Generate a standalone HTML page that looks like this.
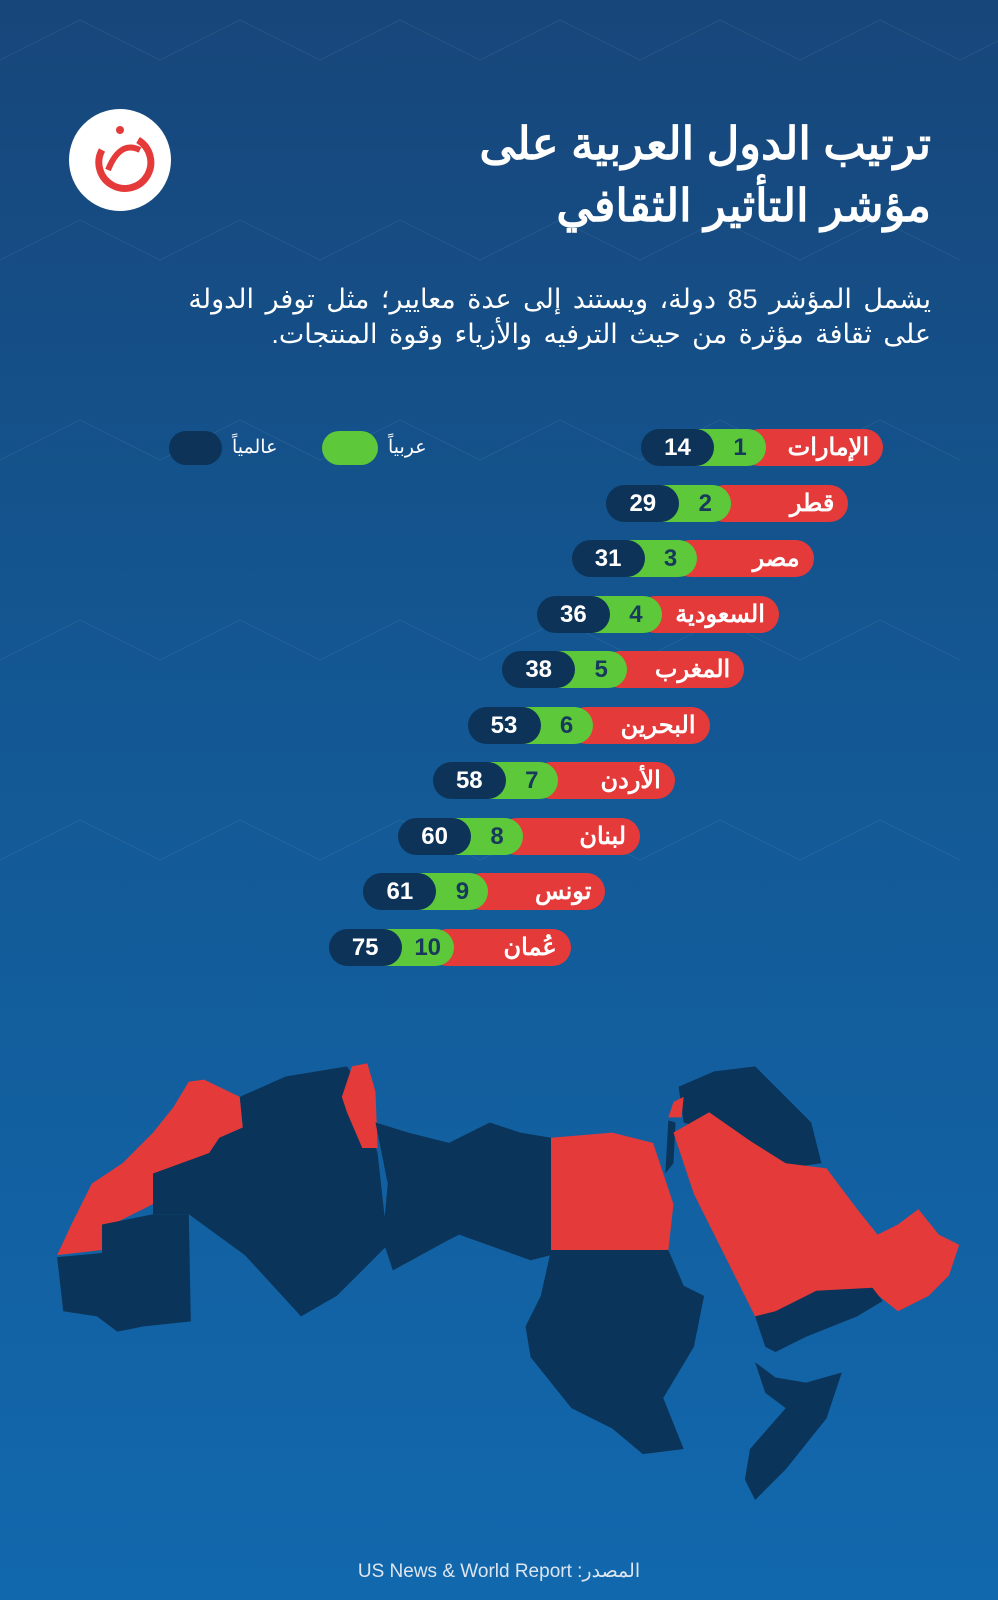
<!DOCTYPE html>
<html><head><meta charset="utf-8"><style>
body{margin:0;width:998px;height:1600px;overflow:hidden;font-family:"Liberation Sans","Noto Sans CJK SC",sans-serif}
#bg{position:absolute;left:0;top:0;width:998px;height:1600px;background:linear-gradient(180deg,#17467a 0%,#135894 45%,#1268ad 100%)}
.t{position:absolute;color:#fff;direction:rtl;text-align:right;white-space:nowrap}
.row{position:absolute;height:37px}
.row div{position:absolute;top:0;height:37px;border-radius:19px;color:#fff;font-weight:bold;font-size:24px;line-height:37px}
.r{background:#e43a3a;text-align:right;padding-right:14px;box-sizing:border-box;direction:rtl}
.g{background:#5cc83a;color:#173a5c!important;text-align:center}
.d{background:#0d3358;text-align:center}
</style></head><body>
<div id="bg"></div>
<svg style="position:absolute;left:0;top:0" width="998" height="1600">
<g stroke="#ffffff" stroke-opacity="0.05" fill="none" stroke-width="1.5">
<path d="M0 60 L80 20 L160 60 L240 20 L320 60 L400 20 L480 60 L560 20 L640 60 L720 20 L800 60 L880 20 L960 60 L1040 20"/>
<path d="M0 260 L80 220 L160 260 L240 220 L320 260 L400 220 L480 260 L560 220 L640 260 L720 220 L800 260 L880 220 L960 260"/>
<path d="M0 460 L80 420 L160 460 L240 420 L320 460 L400 420 L480 460 L560 420 L640 460 L720 420 L800 460 L880 420 L960 460"/>
<path d="M0 660 L80 620 L160 660 L240 620 L320 660 L400 620 L480 660 L560 620 L640 660 L720 620 L800 660 L880 620 L960 660"/>
<path d="M0 860 L80 820 L160 860 L240 820 L320 860 L400 820 L480 860 L560 820 L640 860 L720 820 L800 860 L880 820 L960 860"/>
</g>
<circle cx="120" cy="160" r="51" fill="#fff"/>
<path d="M138 140 A26 26 0 1 1 102 150" stroke="#e43a3a" stroke-width="7" fill="none"/>
<path d="M108 170 Q120 140 140 150" stroke="#e43a3a" stroke-width="6" fill="none"/>
<circle cx="120" cy="130" r="4" fill="#e43a3a"/>
<g transform="scale(1.0204)">
<path fill="#e43a3a" d="M185 1060 L200 1058 L235 1075 L238 1105 L215 1115 L205 1130 L160 1150 L150 1180 L110 1200 L100 1225 L56 1230 L70 1200 L90 1160 L120 1140 L150 1110 L170 1085Z"/>
<path fill="#0a3459" d="M56 1232 L100 1228 L100 1200 L150 1190 L185 1190 L187 1295 L140 1300 L115 1305 L95 1290 L62 1285Z"/>
<path fill="#0a3459" d="M235 1075 L280 1055 L340 1045 L350 1060 L370 1130 L380 1220 L330 1270 L295 1290 L240 1230 L185 1190 L150 1190 L150 1150 L205 1130 L215 1115 L238 1105Z"/>
<path fill="#e43a3a" d="M345 1045 L360 1042 L368 1070 L370 1125 L355 1125 L340 1090 L335 1075Z"/>
<path fill="#0a3459" d="M368 1100 L400 1110 L440 1120 L480 1100 L510 1110 L540 1115 L540 1230 L520 1235 L450 1210 L440 1215 L385 1245 L375 1215 L380 1160Z"/>
<path fill="#e43a3a" d="M540 1115 L600 1110 L640 1120 L660 1180 L655 1225 L540 1225Z"/>
<path fill="#0a3459" d="M540 1225 L655 1225 L670 1260 L690 1270 L680 1320 L650 1370 L670 1420 L630 1425 L600 1400 L560 1380 L520 1330 L515 1300 L530 1270Z"/>
<path fill="#0a3459" d="M665 1065 L700 1050 L740 1045 L795 1100 L805 1140 L770 1145 L730 1120 L700 1110 L670 1100Z"/>
<path fill="#e43a3a" d="M660 1080 L670 1075 L668 1095 L655 1095Z"/>
<path fill="#0a3459" d="M655 1098 L662 1100 L660 1140 L652 1150Z"/>
<path fill="#e43a3a" d="M660 1110 L695 1090 L735 1118 L770 1140 L810 1145 L840 1185 L860 1210 L880 1200 L900 1185 L920 1210 L940 1220 L930 1250 L910 1270 L880 1285 L855 1265 L800 1270 L760 1285 L740 1290 L710 1230 L680 1170Z"/>
<path fill="#0a3459" d="M740 1290 L760 1285 L800 1265 L855 1262 L865 1275 L840 1290 L790 1310 L760 1325 L750 1320Z"/>
<path fill="#0a3459" d="M740 1335 L760 1350 L790 1355 L825 1345 L810 1390 L770 1440 L740 1470 L730 1450 L735 1420 L770 1380 L750 1365Z"/>
</g>
</svg>
<div class="t" style="right:67px;top:113px;font-size:45px;font-weight:bold;line-height:62px">ترتيب الدول العربية على<br>مؤشر التأثير الثقافي</div>
<div class="t" style="right:67px;top:282px;font-size:27px;line-height:35px;word-spacing:4px">يشمل المؤشر 85 دولة، ويستند إلى عدة معايير؛ مثل توفر الدولة<br>على ثقافة مؤثرة من حيث الترفيه والأزياء وقوة المنتجات.</div>
<div style="position:absolute;left:169px;top:431px;width:53px;height:34px;border-radius:17px;background:#0d3358"></div>
<div class="t" style="left:232px;top:436px;font-size:19px">عالمياً</div>
<div style="position:absolute;left:322px;top:431px;width:56px;height:34px;border-radius:17px;background:#5cc83a"></div>
<div class="t" style="left:388px;top:436px;font-size:19px">عربياً</div>
<div id="rows"></div>
<div class="t" style="left:0;width:998px;text-align:center;top:1560px;font-size:19px;color:#dde6f0">المصدر: US News &amp; World Report</div>
<script>
var d=[["الإمارات",1,14],["قطر",2,29],["مصر",3,31],["السعودية",4,36],["المغرب",5,38],["البحرين",6,53],["الأردن",7,58],["لبنان",8,60],["تونس",9,61],["عُمان",10,75]];
var h="";
d.forEach(function(r,i){var L=641-i*34.7,T=429+i*55.5;
h+='<div class="row" style="left:'+L+'px;top:'+T+'px;width:242px"><div class="r" style="left:100px;width:142px">'+r[0]+'</div><div class="g" style="left:40px;width:85px;padding-left:33px;box-sizing:border-box">'+r[1]+'</div><div class="d" style="left:0;width:73px">'+r[2]+'</div></div>';});
document.getElementById("rows").innerHTML=h;
</script>
</body></html>
